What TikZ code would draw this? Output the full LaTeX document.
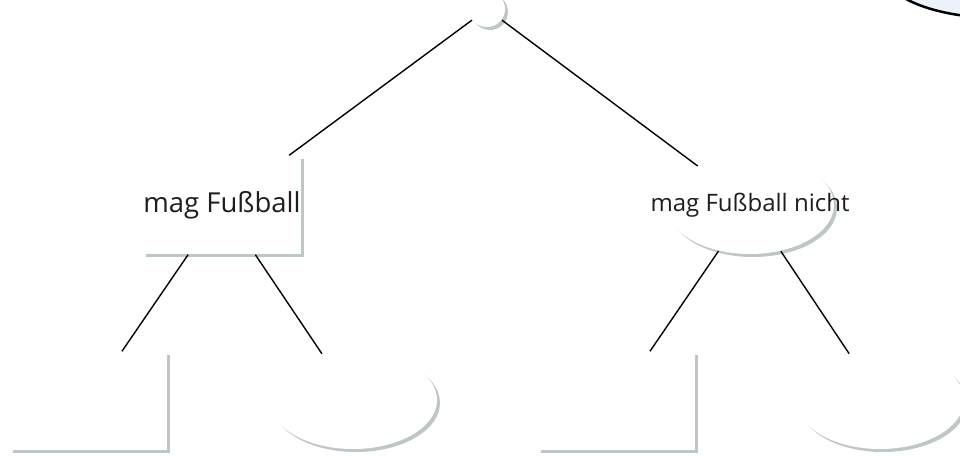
\documentclass[tikz,border=0pt]{standalone}
\usepackage{fontspec}
\setmainfont{Open Sans}
\usepackage{tikz}
\usetikzlibrary{shapes.geometric,shadows}
\definecolor{shadowgray}{RGB}{190,199,199}
\definecolor{notefill}{RGB}{237,242,250}
\definecolor{textgray}{RGB}{30,30,30}

\begin{document}
\begin{tikzpicture}[x=1pt, y=-1pt, line width=1.4pt,
  every node/.style={font=\fontsize{24}{28}\selectfont, text=textgray, inner sep=0pt},
  soft shadow/.style={drop shadow={shadow xshift=3pt, shadow yshift=-3pt, fill=shadowgray, opacity=1}},
  boxnode/.style={rectangle, fill=white, minimum width=157pt, minimum height=98pt, soft shadow},
  ovalnode/.style={ellipse, fill=white, minimum width=168pt, minimum height=98pt, soft shadow},
  rootnode/.style={circle, fill=white, minimum size=36pt, soft shadow}]
\useasboundingbox (0,0) rectangle (960,455);
% top of the tree
\node (root) [rootnode] at (487,9) {};
\node (note) [ellipse, draw, fill=notefill, line width=2.5pt, minimum width=230pt, minimum height=90pt] at (1000,-27) {};
% first level
\node (fan) [boxnode, font=\fontsize{27.5}{32}\selectfont] at (222,205) {mag Fußball};
\node (nofan) [ovalnode, label={center:mag Fußball nicht}] at (750,205) {};
% second level
\node (fanA) [boxnode] at (88,401) {};
\node (fanB) [ovalnode] at (353,400) {};
\node (nofanA) [boxnode] at (616,401) {};
\node (nofanB) [ovalnode] at (880,400) {};
\draw (root) -- (fan);
\draw (root) -- (nofan);
\draw (fan) -- (fanA);
\draw (fan) -- (fanB);
\draw (nofan) -- (nofanA);
\draw (nofan) -- (nofanB);
\end{tikzpicture}
\end{document}
